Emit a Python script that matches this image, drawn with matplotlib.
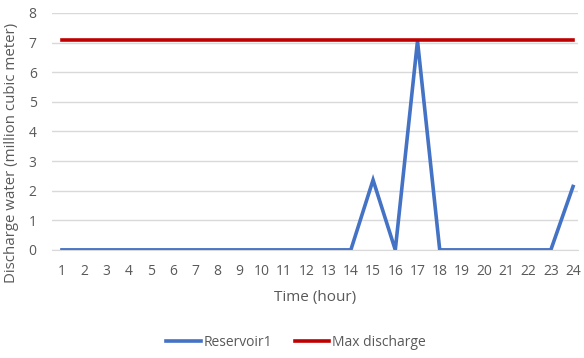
import matplotlib
matplotlib.use("Agg")
import matplotlib.pyplot as plt

plt.rcParams['font.family'] = ['Open Sans', 'DejaVu Sans']

hours = list(range(1, 25))
reservoir1 = [0, 0, 0, 0, 0, 0, 0, 0, 0, 0, 0, 0, 0, 0, 2.36, 0, 7.05, 0, 0, 0, 0, 0, 0, 2.14]
max_discharge = [7.08] * 24

text_col = '#595959'

fig = plt.figure(figsize=(5.84, 3.58), dpi=100)
ax = fig.add_axes([0.089, 0.302, 0.901, 0.662])

ax.plot(hours, reservoir1, color='#4472C4', lw=2.6, label='Reservoir1', solid_joinstyle='miter')
ax.plot(hours, max_discharge, color='#C00000', lw=2.6, label='Max discharge')

ax.set_xlim(0.55, 24.23)
ax.set_ylim(0, 8)
ax.set_xticks(hours)
ax.set_yticks(range(0, 9))
ax.grid(axis='y', color='#D9D9D9', lw=1)
ax.set_axisbelow(True)
for s in ['top', 'right', 'left']:
    ax.spines[s].set_visible(False)
ax.spines['bottom'].set_color('#D9D9D9')
ax.tick_params(length=0, labelsize=10, colors=text_col)
ax.tick_params(axis='x', pad=10)
ax.tick_params(axis='y', pad=11)

ax.set_xlabel('Time (hour)', fontsize=11, color=text_col, labelpad=8)
ax.set_ylabel('Discharge water (million cubic meter)', fontsize=10.8, color=text_col)
ax.yaxis.set_label_coords(-0.062, 0.41)

ax.legend(loc='center', bbox_to_anchor=(0.464, -0.39), ncol=2, frameon=False,
          fontsize=10, labelcolor=text_col, handlelength=2.5, handletextpad=0.2, columnspacing=1.6)

fig.savefig('out.png', dpi=100)
